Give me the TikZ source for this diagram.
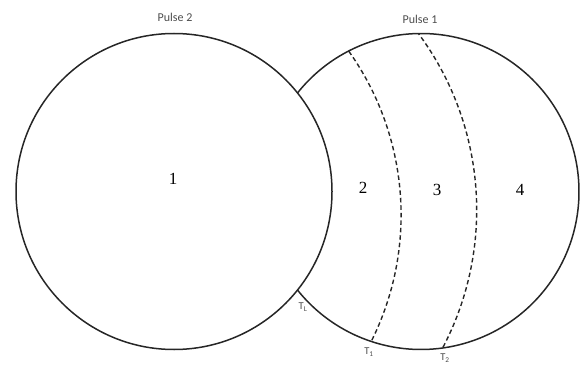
\documentclass[tikz,border=0pt]{standalone}
\usepackage{fontspec}
\setmainfont{Liberation Serif}
\newfontfamily\labelfont{Carlito}
\begin{document}
\begin{tikzpicture}[x=1pt,y=1pt,
  rim/.style={line width=1.5pt, draw=black!85},
  front/.style={line width=1.4pt, dash pattern=on 4.5pt off 3pt, draw=black!85},
  region/.style={font=\fontsize{17}{17}\selectfont, text=black},
  tag/.style={font=\labelfont\fontsize{12}{13}\selectfont, text=black!70},
  tick/.style={font=\labelfont\fontsize{10.5}{11}\selectfont, text=black!70},
  ]
\useasboundingbox (0,0) rectangle (581,365);

% pulse centres
\coordinate (c2) at (174,173.5);
\coordinate (c1) at (421,173.5);

% pulse 2: full circle; pulse 1: only the part outside pulse 2
\draw[rim] (c2) circle[radius=158];
\draw[rim] (c1) ++(141.4:158) arc[start angle=141.4, end angle=-141.4, radius=158];

% dashed fronts inside pulse 1
\begin{scope}
  \clip (c1) circle[radius=158];
  \draw[front] (118.6,150) ++(40:282.5) arc[start angle=40, end angle=-32, radius=282.5];
  \draw[front] (180.4,155) ++(40:296.3) arc[start angle=40, end angle=-32, radius=296.3];
\end{scope}

% titles
\node[tag] (p2) at (175,348) {Pulse 2};
\node[tag] (p1) at (420,346) {Pulse 1};

% region numbers
\node[region] (r1) at (173,186) {1};
\node[region] (r2) at (363,177) {2};
\node[region] (r3) at (437,175) {3};
\node[region] (r4) at (520,175) {4};

% time marks
\node[tick] (tl) at (303,58) {T\textsubscript{L}};
\node[tick] (t1) at (369,13) {T\textsubscript{1}};
\node[tick] (t2) at (445,7) {T\textsubscript{2}};
\end{tikzpicture}
\end{document}
